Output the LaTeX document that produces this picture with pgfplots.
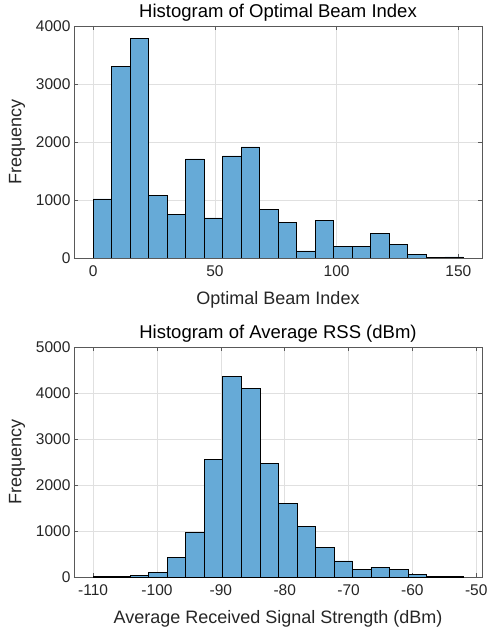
\documentclass[border=0pt]{standalone}
\usepackage{pgfplots}
\pgfplotsset{compat=1.18}
\usepackage{fontspec}
\setmainfont{Liberation Sans}

\definecolor{barblue}{RGB}{102,170,215}
\definecolor{axgray}{RGB}{38,38,38}

\pgfplotsset{
  histstyle/.style={
    scale only axis,
    width=408pt,
    axis line style={black!65, line width=0.6pt},
    tick style={black!65, line width=0.6pt},
    major tick length=4pt,
    tick align=inside,
    grid=major,
    major grid style={black!12, line width=0.6pt},
    ymin=0,
    ylabel={Frequency},
    /pgf/number format/assume math mode=true,
    /pgf/number format/1000 sep={},
    tick label style={font=\fontsize{15.5}{17}\selectfont, text=axgray},
    xticklabel style={yshift=-4pt},
    label style={font=\fontsize{18}{20}\selectfont, text=axgray},
    title style={font=\fontsize{18.5}{20}\selectfont, text=black, yshift=-5pt},
    ylabel style={yshift=4pt},
    xlabel style={yshift=-8pt},
    scaled ticks=false,
  },
}

\begin{document}
\begin{tikzpicture}
\useasboundingbox (0pt,0pt) rectangle (487pt,629pt);

% top: optimal beam index
\begin{axis}[histstyle,
  at={(74pt,371pt)}, anchor=south west,
  height=232pt,
  xmin=-7.9, xmax=159.7,
  ymax=4000,
  xtick={0,50,100,150},
  ytick={0,1000,2000,3000,4000},
  title={Histogram of Optimal Beam Index},
  xlabel={Optimal Beam Index},
]
\addplot[ybar interval, fill=barblue, draw=black, line width=0.6pt]
coordinates {
(0,1020) (7.6,3300) (15.2,3790) (22.8,1080) (30.4,755) (38,1710)
(45.6,690) (53.2,1760) (60.8,1915) (68.4,832) (76,615) (83.6,122)
(91.2,642) (98.8,206) (106.4,200) (114,426) (121.6,230) (129.2,58)
(136.8,15) (144.4,20) (152,20)
};
\end{axis}

% bottom: average RSS
\begin{axis}[histstyle,
  at={(74pt,52pt)}, anchor=south west,
  height=230pt,
  xmin=-113, xmax=-49.1,
  ymax=5000,
  xtick={-110,-100,-90,-80,-70,-60,-50},
  ytick={0,1000,2000,3000,4000,5000},
  title={Histogram of Average RSS (dBm)},
  xlabel={Average Received Signal Strength (dBm)},
]
\addplot[ybar interval, fill=barblue, draw=black, line width=0.6pt]
coordinates {
(-110,5) (-107.1,8) (-104.2,30) (-101.3,100) (-98.4,430) (-95.5,965)
(-92.6,2555) (-89.7,4355) (-86.8,4095) (-83.9,2464) (-81,1594)
(-78.1,1094) (-75.2,652) (-72.3,350) (-69.4,168) (-66.5,210)
(-63.6,162) (-60.7,50) (-57.8,20) (-54.9,6) (-52,6)
};
\end{axis}
\end{tikzpicture}
\end{document}
